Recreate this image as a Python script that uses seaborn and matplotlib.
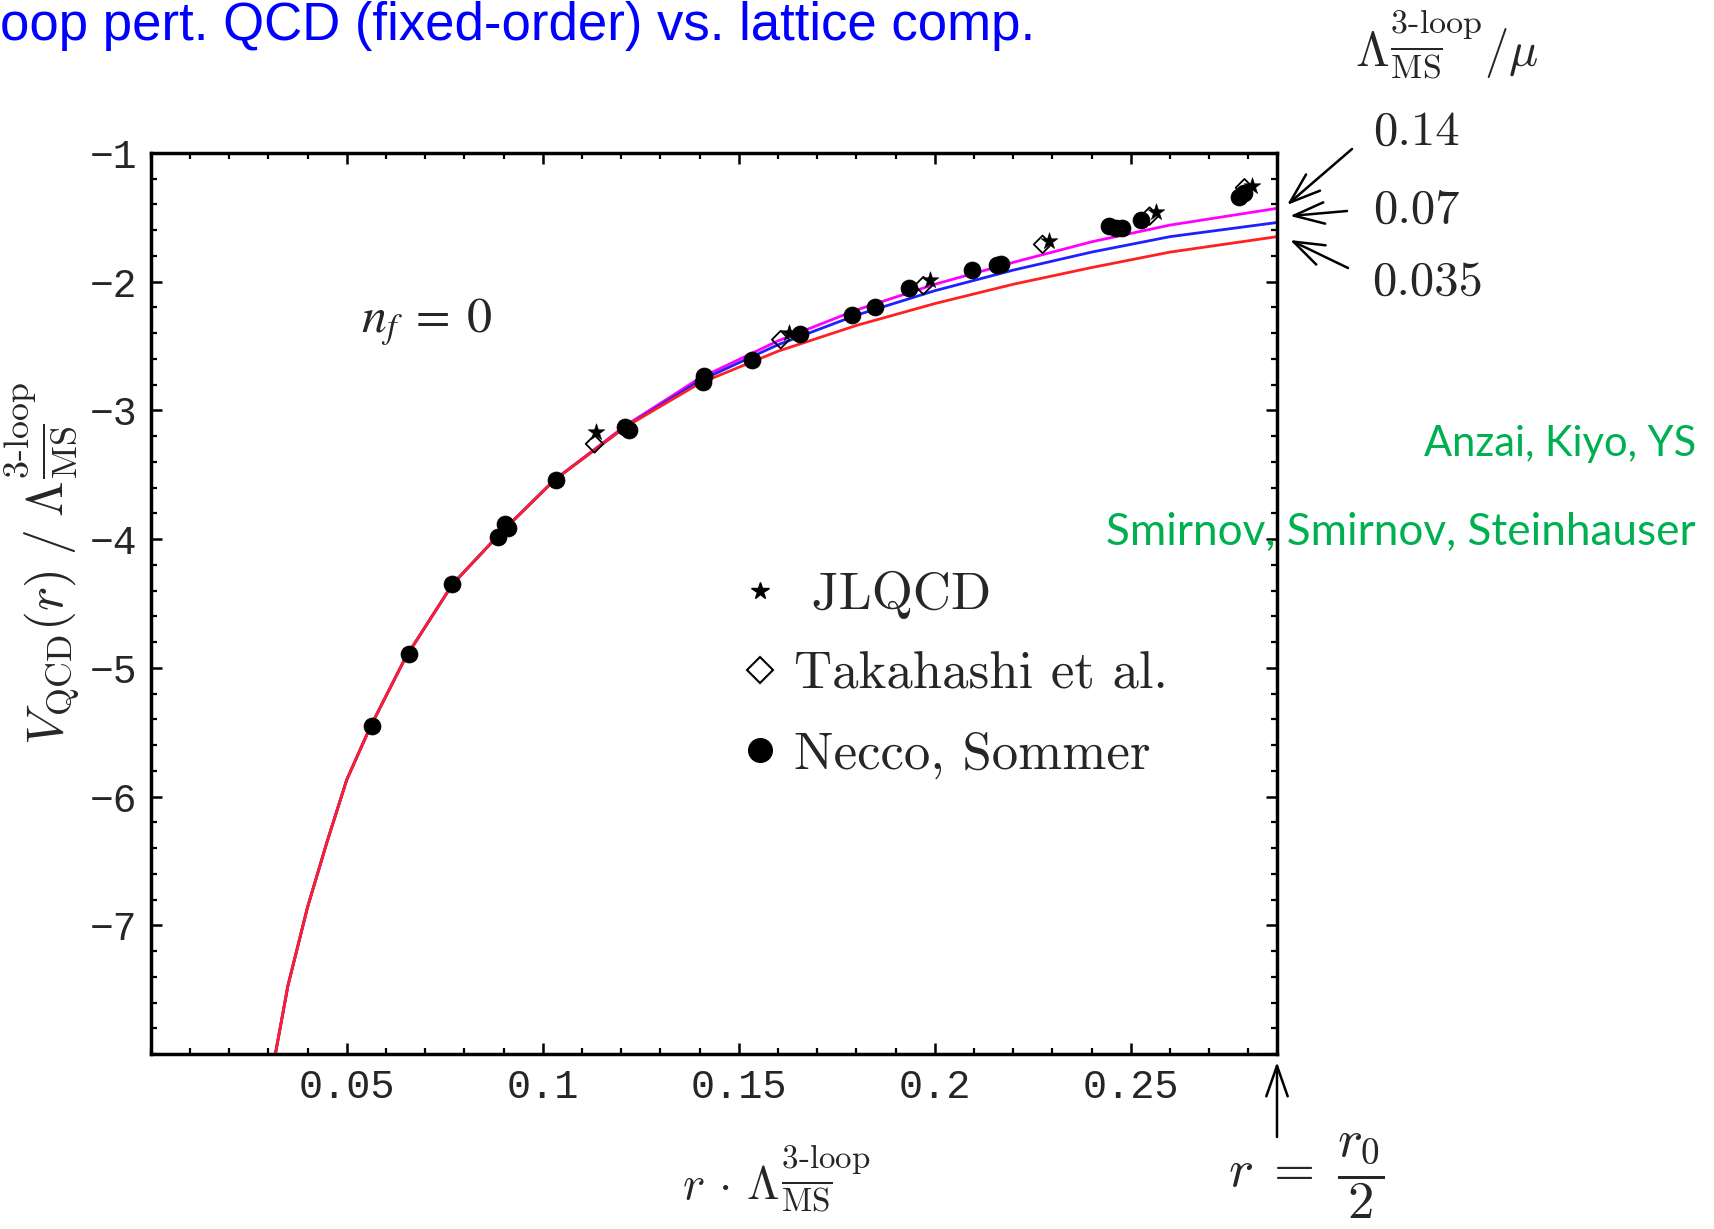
import numpy as np
import pandas as pd
import matplotlib
matplotlib.use("Agg")
import matplotlib.pyplot as plt
import seaborn as sns
from matplotlib.lines import Line2D
from matplotlib.ticker import FixedLocator, MultipleLocator

# ---------------- data ----------------
r_curve = [0.0315, 0.035, 0.040, 0.045, 0.050, 0.056, 0.065, 0.077, 0.089,
           0.103, 0.121, 0.140, 0.160, 0.180, 0.200, 0.220, 0.240, 0.260, 0.2873]
v_mu_014 = [-8.05, -7.47, -6.86, -6.35, -5.87, -5.46, -4.92, -4.35, -3.96,
            -3.54, -3.12, -2.75, -2.46, -2.22, -2.02, -1.85, -1.69, -1.56, -1.43]
v_mu_007 = [-8.05, -7.47, -6.86, -6.35, -5.87, -5.46, -4.92, -4.35, -3.96,
            -3.54, -3.13, -2.77, -2.49, -2.26, -2.07, -1.91, -1.77, -1.65, -1.54]
v_mu_0035 = [-8.05, -7.47, -6.86, -6.35, -5.87, -5.46, -4.92, -4.35, -3.96,
             -3.54, -3.13, -2.79, -2.54, -2.34, -2.17, -2.02, -1.89, -1.77, -1.65]
mu_labels = ["0.14", "0.07", "0.035"]
mu_colors = ["#ff00ff", "#2020ff", "#ff2020"]

necco_r = [0.0564, 0.0658, 0.0769, 0.0886, 0.0903, 0.0911, 0.1033, 0.1211, 0.1220,
           0.1411, 0.1408, 0.1535, 0.1657, 0.1789, 0.1847, 0.1935, 0.2095, 0.2160,
           0.2168, 0.2444, 0.2462, 0.2478, 0.2526, 0.2776, 0.2790]
necco_v = [-5.45, -4.89, -4.35, -3.98, -3.88, -3.91, -3.54, -3.13, -3.15,
           -2.73, -2.78, -2.61, -2.41, -2.26, -2.20, -2.05, -1.91, -1.87,
           -1.86, -1.57, -1.58, -1.58, -1.52, -1.34, -1.31]
jlqcd_r = [0.1135, 0.1628, 0.1987, 0.2291, 0.2565, 0.2810]
jlqcd_v = [-3.17, -2.40, -1.99, -1.68, -1.46, -1.26]
takahashi_r = [0.1132, 0.1607, 0.1971, 0.2275, 0.2548, 0.2790]
takahashi_v = [-3.26, -2.45, -2.03, -1.71, -1.49, -1.27]

x_ticks = [0.05, 0.10, 0.15, 0.20, 0.25]
x_tick_labels = ["0.05", "0.1", "0.15", "0.2", "0.25"]
y_ticks = [-7, -6, -5, -4, -3, -2, -1]
y_tick_labels = ["\u22127", "\u22126", "\u22125", "\u22124", "\u22123", "\u22122", "\u22121"]

# ---------------- style ----------------
sns.set_style("ticks")
plt.rcParams["font.family"] = ["DejaVu Sans"]
plt.rcParams["mathtext.fontset"] = "cm"

W, H = 1714, 1229
fig = plt.figure(figsize=(W / 100, H / 100), dpi=100)
ax = fig.add_axes([150.7 / W, 1 - 1054 / H, (1277 - 150.7) / W, (1054 - 153) / H])

def fx(x):
    return x / W

def fy(y):
    return 1 - y / H

curve_df = pd.concat([
    pd.DataFrame({"r": r_curve, "V": v, "mu": lab})
    for v, lab in zip([v_mu_014, v_mu_007, v_mu_0035], mu_labels)
])
sns.lineplot(data=curve_df, x="r", y="V", hue="mu", hue_order=mu_labels,
             palette=dict(zip(mu_labels, mu_colors)), sort=False, estimator=None,
             linewidth=2.0, legend=False, ax=ax, zorder=2)

sns.scatterplot(x=necco_r, y=necco_v, marker="o", s=150, color="black",
                edgecolor="black", linewidth=0.5, ax=ax, zorder=4)
sns.scatterplot(x=takahashi_r, y=takahashi_v, marker="D", s=80, facecolor="none",
                edgecolor="black", linewidth=1.3, ax=ax, zorder=5)
sns.scatterplot(x=jlqcd_r, y=jlqcd_v, marker="*", s=160, color="black",
                edgecolor="black", linewidth=0.4, ax=ax, zorder=6)

ax.set_xlim(0, 0.2873)
ax.set_ylim(-8, -1)
ax.xaxis.set_major_locator(FixedLocator(x_ticks))
ax.xaxis.set_minor_locator(MultipleLocator(0.01))
ax.yaxis.set_major_locator(FixedLocator(y_ticks))
ax.yaxis.set_minor_locator(MultipleLocator(0.2))
mono = ["Liberation Mono", "DejaVu Sans Mono"]
ax.set_xticklabels(x_tick_labels, fontfamily=mono, fontsize=29)
ax.set_yticklabels(y_tick_labels, fontfamily=mono, fontsize=28.5)
ax.tick_params(which="major", direction="in", top=True, right=True, length=8,
               width=1.8, pad=10, color="black")
ax.tick_params(which="minor", direction="in", top=True, right=True, length=4.5,
               width=1.6, color="black")
for sp in ax.spines.values():
    sp.set_linewidth(2.5)
    sp.set_color("black")
ax.set_xlabel("")
ax.set_ylabel("")

# legend
handles = [
    Line2D([], [], linestyle="none", marker="*", markersize=13, color="black"),
    Line2D([], [], linestyle="none", marker="D", markersize=13, markerfacecolor="none",
           markeredgecolor="black", markeredgewidth=1.5),
    Line2D([], [], linestyle="none", marker="o", markersize=17, color="black"),
]
leg_labels = [" JLQCD", "Takahashi et al.", "Necco, Sommer"]
ax.legend(handles, leg_labels, loc="upper left", bbox_to_anchor=(0.522, 0.536),
          frameon=False, prop={"family": "cmr10", "size": 38}, handlelength=0.8,
          handletextpad=0.25, labelspacing=0.62, borderaxespad=0, borderpad=0)

# n_f label
ax.text(0.0537, -2.39, r"$n_f\;=\;0$", fontsize=36, math_fontfamily="stix",
        ha="left", va="baseline")

# axis labels
fig.text(fx(42), fy(563), r"$V_{\mathrm{QCD}}(r)\;/\;\Lambda^{\text{3-loop}}_{\overline{\mathrm{MS}}}$",
         rotation=90, ha="center", va="center", fontsize=37)
fig.text(fx(776), fy(1178), r"$r\,\cdot\,\Lambda^{\text{3-loop}}_{\overline{\mathrm{MS}}}$",
         ha="center", va="center", fontsize=34)
fig.text(fx(1306), fy(1176), r"$r\;=\;\dfrac{r_0}{2}$", ha="center", va="center", fontsize=38)

# right side labels
fig.text(fx(1447), fy(44), r"$\Lambda^{\text{3-loop}}_{\overline{\mathrm{MS}}}/\mu$",
         ha="center", va="center", fontsize=35)
fig.text(fx(1373), fy(145), "0.14", family="cmr10", fontsize=35, ha="left", va="baseline")
fig.text(fx(1373), fy(223), "0.07", family="cmr10", fontsize=35, ha="left", va="baseline")
fig.text(fx(1372), fy(295), "0.035", family="cmr10", fontsize=35, ha="left", va="baseline")

arrow_kw = dict(arrowstyle="->,head_length=1.0,head_width=0.35", color="black", lw=1.8,
                mutation_scale=22, shrinkA=0, shrinkB=0)
for tail, head in [((1352, 149), (1287, 205)), ((1347, 211), (1290, 216)),
                   ((1348, 268), (1290, 240)), ((1277, 1137), (1277, 1062))]:
    fig.add_artist(matplotlib.patches.FancyArrowPatch(
        (fx(tail[0]), fy(tail[1])), (fx(head[0]), fy(head[1])),
        transform=fig.transFigure, **arrow_kw))

# title (its beginning is cut off at the left edge, as in the slide)
fig.text(0.0, fy(40), "oop pert. QCD (fixed-order) vs. lattice comp.", color="#0000ff",
         family="Liberation Sans", fontsize=38, ha="left", va="baseline")

# green author notes
fig.text(fx(1696), fy(444), "Anzai, Kiyo, YS", color="#00b050", family="Lato",
         fontsize=30, ha="right", va="center")
fig.text(fx(1696), fy(532), "Smirnov, Smirnov, Steinhauser", color="#00b050",
         family="Lato", fontsize=31.8, ha="right", va="center")

fig.savefig("out.png", dpi=100)
